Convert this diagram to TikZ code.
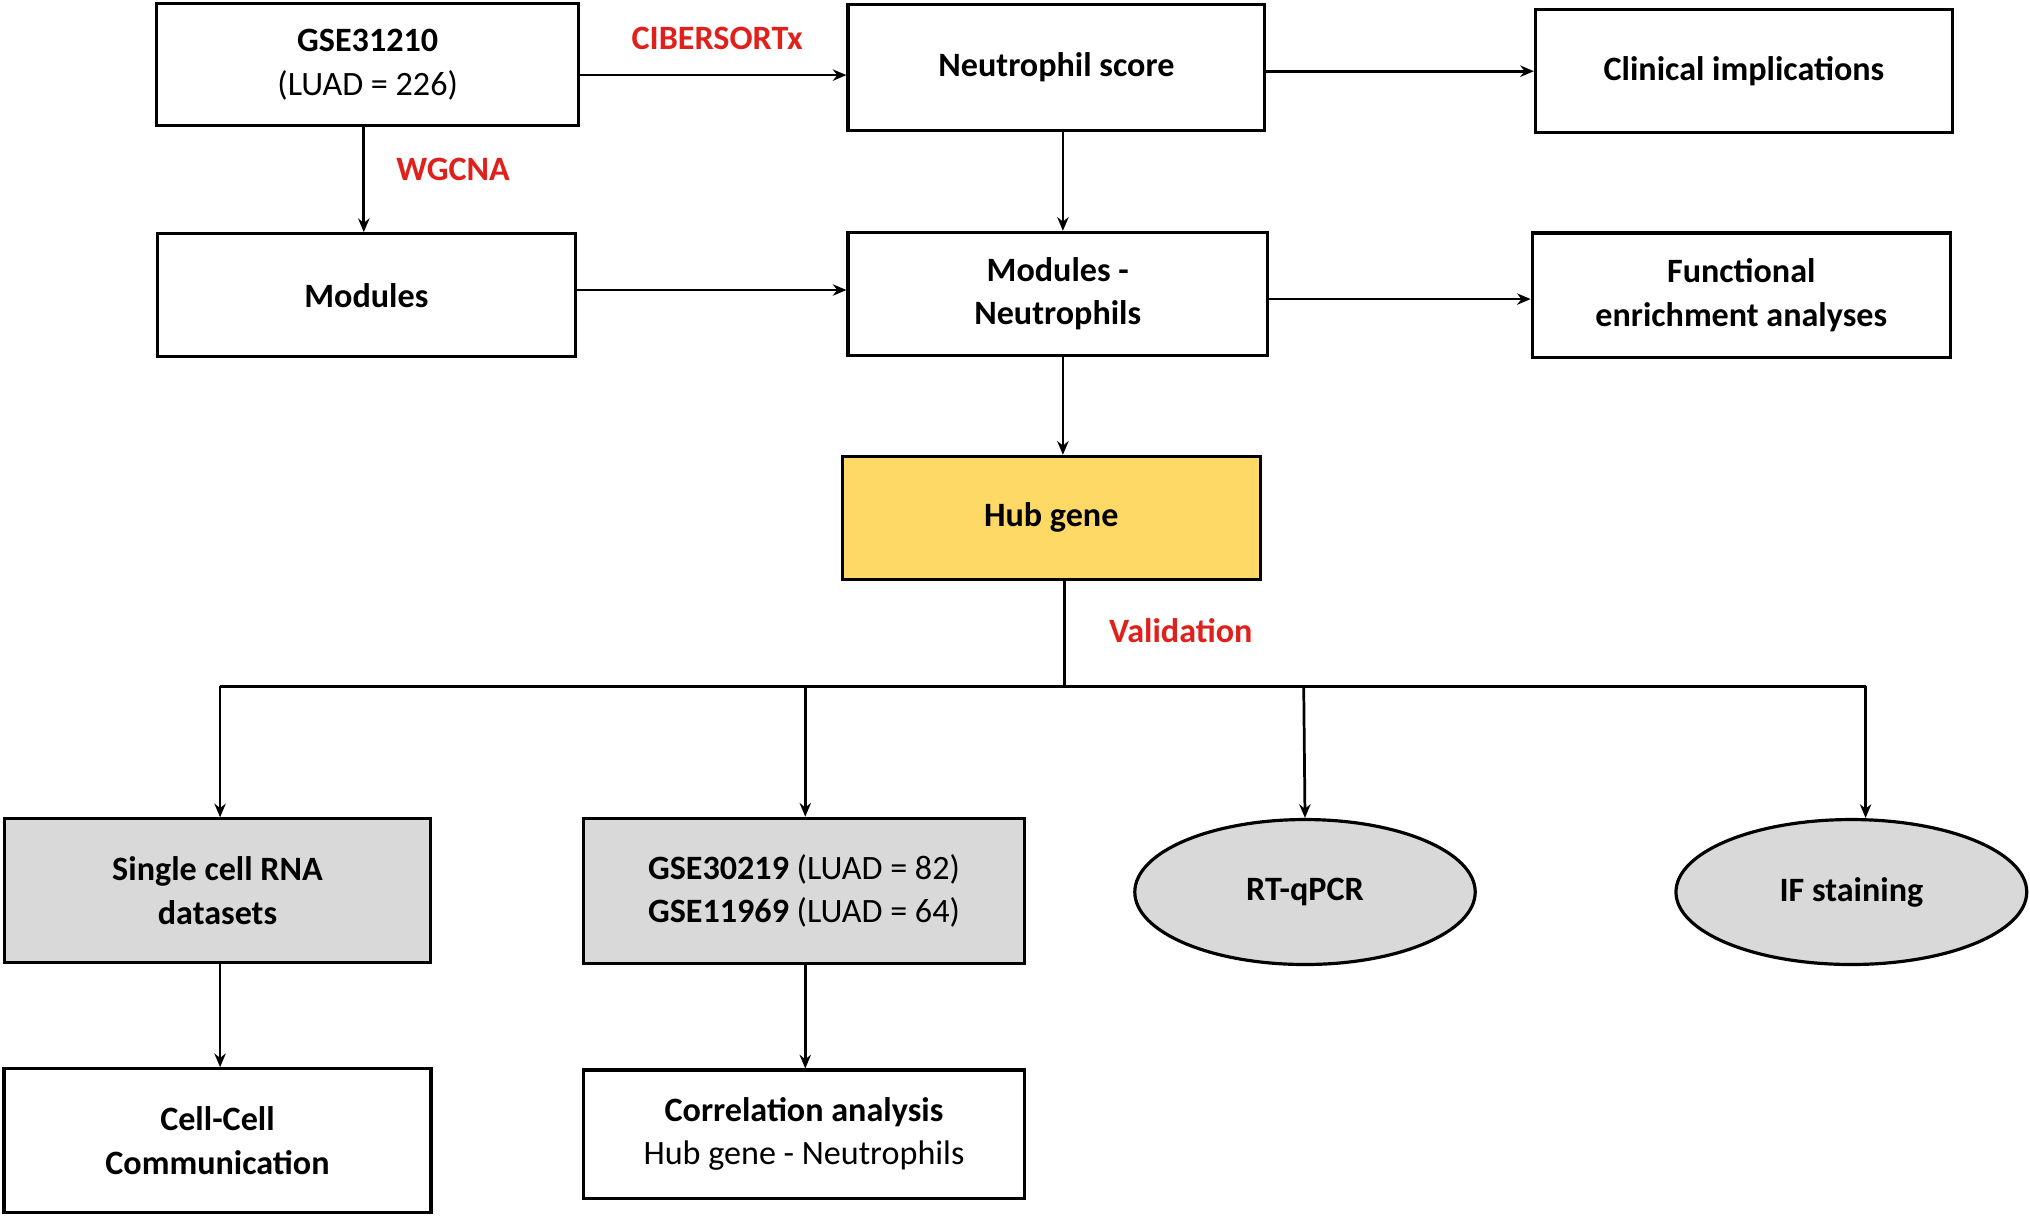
\documentclass[tikz,border=0pt]{standalone}
\usepackage{fontspec}
\setmainfont{Carlito}
\usetikzlibrary{shapes.geometric,arrows.meta}
\definecolor{hubyellow}{HTML}{FFD966}
\definecolor{valgray}{HTML}{D9D9D9}
\definecolor{stepred}{HTML}{E0201B}
\begin{document}
\begin{tikzpicture}[x=0.02cm,y=-0.02cm,
    box/.style={draw,line width=1.4pt,align=center,font=\fontsize{15}{19}\selectfont\bfseries,inner sep=0pt},
    oval/.style={draw,line width=1.4pt,ellipse,fill=valgray,font=\fontsize{15}{19}\selectfont\bfseries,inner sep=0pt},
    tag/.style={text=stepred,font=\fontsize{15}{19}\selectfont\bfseries},
    arr/.style={line width=1.2pt,-{Stealth[length=6pt,width=5pt]}}]

    \useasboundingbox (0,0) rectangle (1568,940);

    % these are the boxes
    \node[box,minimum width=326\pgflinewidth] (gse) at (284,50) [minimum width=6.52cm,minimum height=1.88cm] {GSE31210\\\mdseries(LUAD = 226)};
    \node[box,minimum width=6.44cm,minimum height=1.94cm] (score) at (816,52) {Neutrophil score};
    \node[box,minimum width=6.44cm,minimum height=1.9cm] (clin) at (1347,55) {Clinical implications};
    \node[box,minimum width=6.46cm,minimum height=1.9cm] (mods) at (283,228) {Modules};
    \node[box,minimum width=6.48cm,minimum height=1.9cm] (modneu) at (817,227) {Modules -\\Neutrophils};
    \node[box,minimum width=6.46cm,minimum height=1.92cm] (func) at (1345,228) {Functional\\enrichment analyses};
    \node[box,fill=hubyellow,minimum width=6.46cm,minimum height=1.9cm] (hub) at (812,400) {Hub gene};

    \node[box,fill=valgray,minimum width=6.58cm,minimum height=2.22cm] (sc) at (168,688) {Single cell RNA\\datasets};
    \node[box,fill=valgray,minimum width=6.82cm,minimum height=2.24cm] (gsev) at (621,688)
        {GSE30219 \mdseries(LUAD = 82)\\GSE11969 \mdseries(LUAD = 64)};
    \node[oval,minimum width=5.26cm,minimum height=2.24cm] (pcr) at (1008,689) {RT-qPCR};
    \node[oval,minimum width=5.42cm,minimum height=2.24cm] (ifs) at (1430,689) {IF staining};
    \node[box,minimum width=6.6cm,minimum height=2.22cm] (cell) at (168,881) {Cell-Cell\\Communication};
    \node[box,minimum width=6.82cm,minimum height=1.98cm] (corr) at (621,876)
        {Correlation analysis\\\mdseries Hub gene - Neutrophils};

    % red step labels
    \node[tag] (cib) at (554,30) {CIBERSORTx};
    \node[tag] (wg) at (350,131) {WGCNA};
    \node[tag] (val) at (912,487) {Validation};

    % connectors
    \coordinate (split) at (822,530);
    \draw[arr] (gse.east |- 0,58) -- (score.west |- 0,58);
    \draw[arr] (score.east |- 0,55) -- (clin.west |- 0,55);
    \draw[arr] (281,0 |- gse.south) -- (281,0 |- mods.north);
    \draw[arr] (821,0 |- score.south) -- (821,0 |- modneu.north);
    \draw[arr] (mods.east |- 0,224) -- (modneu.west |- 0,224);
    \draw[arr] (modneu.east |- 0,231) -- (func.west |- 0,231);
    \draw[arr] (821,0 |- modneu.south) -- (821,0 |- hub.north);
    \draw[line width=1.2pt] (822,0 |- hub.south) -- (split);
    \draw[line width=1.2pt] (170,530) -- (1441,530);
    \draw[arr] (170,530) -- (170,0 |- sc.north);
    \draw[arr] (622,530) -- (622,0 |- gsev.north);
    \draw[arr] (1007,530) -- (pcr.north);
    \draw[arr] (1441,530) -- (1441,0 |- ifs.north);
    \draw[arr] (170,0 |- sc.south) -- (170,0 |- cell.north);
    \draw[arr] (622,0 |- gsev.south) -- (622,0 |- corr.north);

\end{tikzpicture}
\end{document}
